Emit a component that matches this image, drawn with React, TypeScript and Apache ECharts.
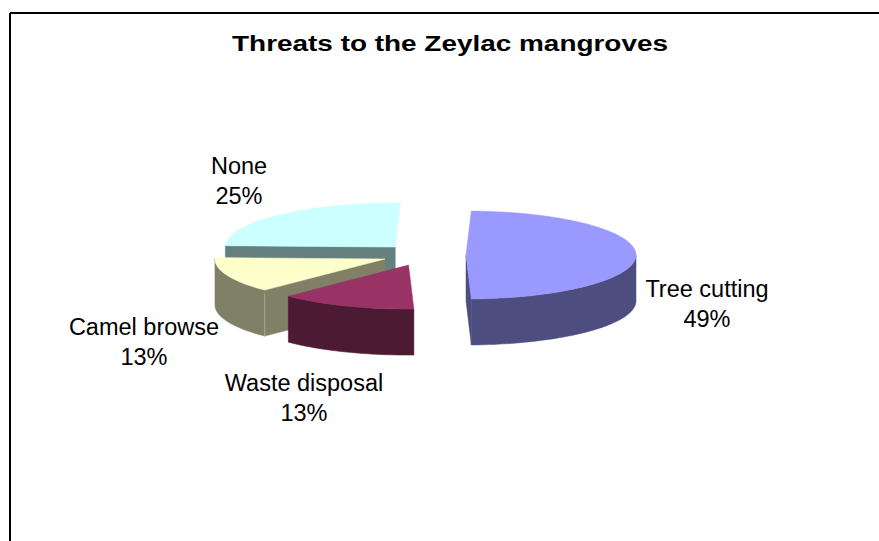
import React, { useEffect, useRef } from "react";
import * as echarts from "echarts";

// Threat shares, in percent, clockwise from the pie's first angle.
const categories = ["Tree cutting", "Waste disposal", "Camel browse", "None"];
const shares = [49, 13, 13, 25];
const topColors = ["#9999FF", "#993366", "#FFFFCC", "#CCFFFF"];
const wallColors = ["#4D4D80", "#4D1A33", "#808066", "#668080"];
const chartTitle = "Threats to the Zeylac mangroves";

// Projection of the tilted, exploded pie.
const CX = 424;
const CY = 255;
const RX = 170;
const RY = 44;
const DEPTH = 46;
const EXPLODE = 42;
const FIRST_ANGLE = 1.8;
const FONT = '"Liberation Sans", Arial, sans-serif';
const LABEL_SIZE = 23.5;

// Centre of each two-line label.
const labelCenters = [
  [707, 304],
  [304, 398],
  [144, 342],
  [239, 181],
];

const total = shares.reduce((sum, v) => sum + v, 0);
const rad = (deg: number) => (deg * Math.PI) / 180;

function renderSlice(params: any, api: any) {
  const i = params.dataIndex;
  const value = api.value(0);
  const before = shares.slice(0, i).reduce((sum, v) => sum + v, 0);
  const a0 = FIRST_ANGLE + (before / total) * 360;
  const a1 = a0 + (value / total) * 360;
  const mid = rad((a0 + a1) / 2);
  const ox = CX + EXPLODE * Math.sin(mid);
  const oy = CY - (EXPLODE * Math.cos(mid) * RY) / RX;
  const rim = (deg: number, drop = 0) => [
    ox + RX * Math.sin(rad(deg)),
    oy - RY * Math.cos(rad(deg)) + drop,
  ];
  const arc = (from: number, to: number, drop = 0) => {
    const pts: number[][] = [];
    const steps = Math.max(2, Math.ceil(Math.abs(to - from) / 2));
    for (let s = 0; s <= steps; s++) pts.push(rim(from + ((to - from) * s) / steps, drop));
    return pts;
  };
  const poly = (points: number[][], fill: string) => ({
    type: "polygon",
    shape: { points },
    style: { fill, stroke: fill, lineWidth: 0.5 },
  });
  const wall = wallColors[i];
  const children: any[] = [];

  // Cut faces that turn towards the viewer.
  if (Math.sin(rad(a0)) < -1e-6) {
    children.push(poly([[ox, oy], rim(a0), rim(a0, DEPTH), [ox, oy + DEPTH]], wall));
  }
  if (Math.sin(rad(a1)) > 1e-6 && a1 < 180) {
    children.push(poly([[ox, oy], rim(a1), rim(a1, DEPTH), [ox, oy + DEPTH]], wall));
  }
  // Outer wall: only the near half of the rim shows.
  const from = Math.max(a0, 90);
  const to = Math.min(a1, 270);
  if (to > from) {
    children.push(poly([...arc(from, to), ...arc(to, from, DEPTH)], wall));
  }
  // Lighter seam where the outer wall meets the cut face.
  if (categories[i] === "Camel browse") {
    const top = rim(a0);
    children.push({
      type: "line",
      shape: { x1: top[0], y1: top[1] + 4, x2: top[0], y2: top[1] + DEPTH },
      style: { stroke: "#A6A68C", lineWidth: 1 },
    });
  }
  // Top face.
  children.push(poly([[ox, oy], ...arc(a0, a1)], topColors[i]));
  // Two-line label: name, then share.
  children.push({
    type: "text",
    style: {
      x: labelCenters[i][0],
      y: labelCenters[i][1],
      text: `${categories[i]}\n${value}%`,
      fill: "#000000",
      font: `${LABEL_SIZE}px ${FONT}`,
      lineHeight: 30,
      align: "center",
      verticalAlign: "middle",
    },
  });
  // Later slices sit behind earlier ones in this view.
  return { type: "group", z2: shares.length - i, children: children.map((c) => ({ ...c, z2: shares.length - i })) };
}

export default function App() {
  const ref = useRef<HTMLDivElement>(null);
  useEffect(() => {
    document.body.style.margin = "0";
    const chart = echarts.init(ref.current!, null, { renderer: "svg" });
    chart.setOption({
      animation: false,
      backgroundColor: "#ffffff",
      graphic: [
        {
          type: "line",
          shape: { x1: 10, y1: 13, x2: 879, y2: 13 },
          style: { stroke: "#000000", lineWidth: 2 },
        },
        {
          type: "line",
          shape: { x1: 10, y1: 13, x2: 10, y2: 541 },
          style: { stroke: "#000000", lineWidth: 2 },
        },
        {
          type: "text",
          x: 450,
          y: 43,
          scaleX: 1.27,
          style: {
            text: chartTitle,
            fill: "#000000",
            font: `bold 22px ${FONT}`,
            align: "center",
            verticalAlign: "middle",
          },
        },
      ],
      series: [
        {
          type: "custom",
          coordinateSystem: "none",
          renderItem: renderSlice,
          data: shares.map((value, i) => ({ name: categories[i], value: [value] })),
        },
      ],
    });
    return () => chart.dispose();
  }, []);
  return <div ref={ref} style={{ width: 879, height: 541 }} />;
}
